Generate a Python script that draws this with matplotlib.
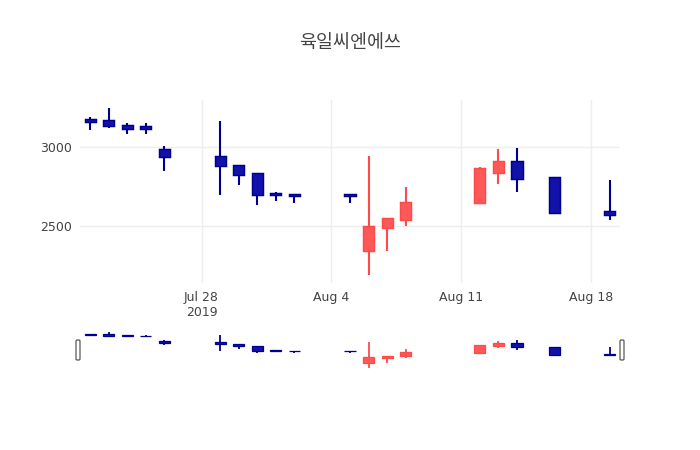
import matplotlib
matplotlib.use("Agg")
import matplotlib.pyplot as plt
import matplotlib.dates as mdates
from matplotlib.patches import FancyBboxPatch
import pandas as pd

dates = ["2019-07-22", "2019-07-23", "2019-07-24", "2019-07-25", "2019-07-26",
         "2019-07-29", "2019-07-30", "2019-07-31", "2019-08-01", "2019-08-02",
         "2019-08-05", "2019-08-06", "2019-08-07", "2019-08-08",
         "2019-08-12", "2019-08-13", "2019-08-14", "2019-08-16", "2019-08-19"]
opens = [3175, 3170, 3140, 3135, 2990, 2945, 2890, 2835, 2710, 2705,
         2705, 2345, 2490, 2540, 2645, 2835, 2915, 2810, 2595]
highs = [3190, 3245, 3150, 3150, 3005, 3165, 2890, 2835, 2720, 2705,
         2705, 2945, 2550, 2750, 2875, 2985, 2995, 2810, 2795]
lows = [3110, 3120, 3085, 3085, 2850, 2700, 2760, 2635, 2660, 2645,
        2645, 2195, 2345, 2500, 2645, 2770, 2720, 2585, 2540]
closes = [3160, 3130, 3115, 3115, 2935, 2880, 2825, 2700, 2695, 2690,
          2690, 2505, 2550, 2655, 2870, 2915, 2800, 2585, 2570]

x = mdates.date2num(pd.to_datetime(dates))
up_face, up_edge = "#ff5858", "#ff4a4a"
dn_face, dn_edge = "#1212aa", "#00008f"

W, H = 700, 450
fig = plt.figure(figsize=(7, 4.5), dpi=100)
fig.text(0.5, 1 - 43 / H, "육일씨엔에쓰", ha="center", va="center",
         fontsize=13.3, color="#444444", family=["Noto Sans CJK KR", "DejaVu Sans"])

ax = fig.add_axes([80 / W, 1 - 283 / H, 540 / W, 183 / H])
sl = fig.add_axes([80 / W, 1 - 370 / H, 540 / W, 40 / H])


def candles(a, wick_lw):
    for xi, o, h, l, c in zip(x, opens, highs, lows, closes):
        face, edge = (up_face, up_edge) if c >= o else (dn_face, dn_edge)
        a.vlines(xi, l, h, color=edge, lw=wick_lw, zorder=2)
        a.bar(xi, abs(c - o) if c != o else 1, bottom=min(o, c), width=0.6,
              color=face, edgecolor=edge, lw=wick_lw * 0.7, zorder=3)


candles(ax, 1.5)
candles(sl, 1.3)

xmin = x[0] - 0.55
xmax = x[-1] + 0.55
for a in (ax, sl):
    a.set_xlim(xmin, xmax)
    a.set_ylim(2143, 3297)
    for s in a.spines.values():
        s.set_visible(False)

ax.set_yticks([2500, 3000])
ax.set_yticklabels(["2500", "3000"])
ticks = mdates.date2num(pd.to_datetime(["2019-07-28", "2019-08-04", "2019-08-11", "2019-08-18"]))
ax.set_xticks(ticks)
ax.set_xticklabels(["Jul 28\n2019", "Aug 4", "Aug 11", "Aug 18"])
ax.tick_params(length=0, labelsize=9, colors="#444444", pad=6)
ax.grid(True, color="#eeeeee", lw=1, zorder=0)
ax.set_axisbelow(True)

sl.set_xticks([])
sl.set_yticks([])
sl.patch.set_alpha(0)

# range slider handles (figure pixel coords)
for hx in (78, 622):
    fig.patches.append(FancyBboxPatch(((hx - 2) / W, 1 - 360 / H), 4 / W, 20 / H,
                                      boxstyle="round,pad=0,rounding_size=0.0015",
                                      mutation_aspect=W / H,
                                      transform=fig.transFigure, facecolor="white",
                                      edgecolor="#444444", lw=0.8, zorder=5))

fig.savefig("out.png", dpi=100)
